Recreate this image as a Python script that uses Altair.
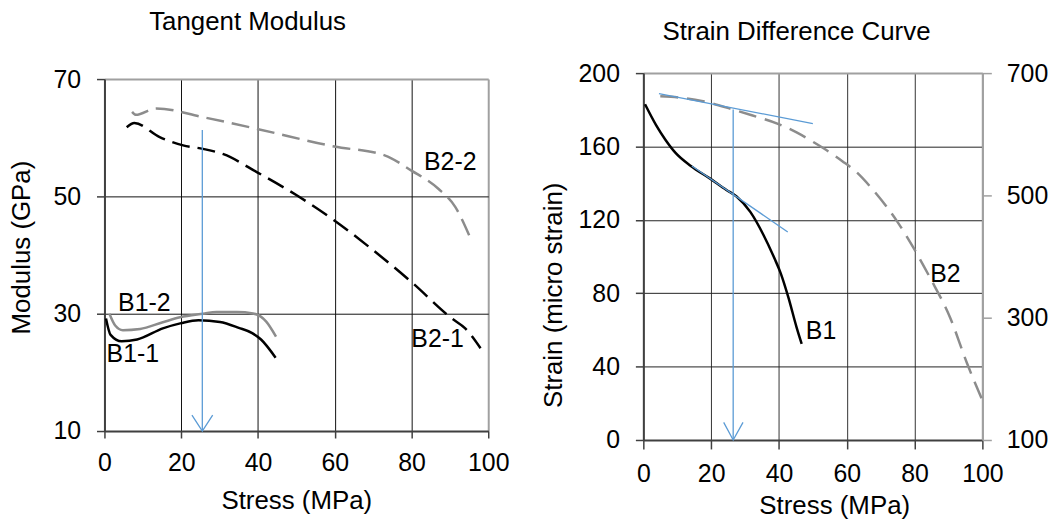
import altair as alt
import pandas as pd

FONT = "Liberation Sans"
BLUE = "#5B9BD5"
GRAY = "#8C8C8C"
BORDER = "#A0A0A0"
AXC = "#404040"

# ---------------- data: left panel (Tangent Modulus) ----------------
left_x_ticks = [0, 20, 40, 60, 80, 100]
left_y_ticks = [10, 30, 50, 70]

b11_x = [0.4, 1.6, 4.5, 8.5, 15.2, 20.0, 24.5, 30.1, 35.0, 38.5, 40.8, 44.6]
b11_y = [29.2, 26.4, 25.3, 25.6, 27.5, 28.4, 28.9, 28.6, 27.6, 26.7, 25.6, 22.5]
b12_x = [1.3, 2.8, 4.8, 9.3, 15.0, 19.7, 25.7, 29.2, 34.5, 38.7, 42.1, 44.7]
b12_y = [30.0, 28.0, 27.2, 27.4, 28.5, 29.4, 30.0, 30.3, 30.3, 30.05, 28.7, 26.1]
b21_x = [5.8, 7.8, 14.4, 20.5, 25.7, 31.0, 39.8, 50.3, 59.9, 69.5, 80.0, 90.5, 94.0, 98.0]
b21_y = [61.8, 62.5, 60.1, 58.7, 58.1, 57.2, 54.1, 50.1, 45.9, 41.1, 35.4, 29.2, 27.5, 24.1]
b22_x = [7.2, 8.2, 13.5, 25.7, 39.8, 59.9, 73.0, 80.0, 87.0, 91.4, 95.4]
b22_y = [64.4, 63.9, 65.0, 63.5, 61.5, 58.5, 57.0, 54.4, 51.3, 48.2, 42.8]

left_arrow_x = [25.5]
left_arrow_top = [61.3]
left_arrow_bottom = [10.0]
left_head_x = [22.8, 25.5, 28.2]
left_head_y = [12.7, 10.0, 12.7]

left_labels = ["B2-2", "B2-1", "B1-2", "B1-1"]
left_label_x = [90.1, 86.8, 10.4, 7.4]
left_label_y = [55.8, 25.7, 31.8, 23.1]

# ---------------- data: right panel (Strain Difference Curve) ----------------
right_x_ticks = [0, 20, 40, 60, 80, 100]
right_yl_ticks = [0, 40, 80, 120, 160, 200]
right_yr_ticks = [100, 300, 500, 700]

b1_x = [0.5, 3.8, 6.5, 9.5, 14.0, 19.6, 24.5, 27.5, 31.6, 35.4, 38.7, 40.5, 42.8, 45.2, 46.7]
b1_y = [183.0, 171.5, 163.7, 156.5, 149.4, 142.6, 136.3, 132.7, 124.2, 111.9, 98.9, 91.0, 77.6, 61.4, 52.4]
b2_x = [5.0, 10.7, 17.6, 26.1, 32.0, 39.7, 45.2, 50.5, 55.1, 58.7, 62.5, 67.9, 74.8, 79.7, 84.6, 90.5, 95.5, 100.0]
b2_y = [662, 660, 654, 641, 631, 617, 603, 586, 570, 556, 540, 508, 458, 414, 365, 300, 225, 165]

tan_upper_x = [4.6, 50.0]
tan_upper_y = [666.4, 617.5]
tan_lower_x = [14.3, 42.6]
tan_lower_y = [149.4, 113.4]

right_arrow_x = [26.5]
right_arrow_top = [180.1]
right_arrow_bottom = [0.0]
right_head_x = [23.7, 26.5, 29.4]
right_head_y = [9.6, 0.0, 9.6]

right_labels = ["B1", "B2"]
right_label_x = [52.4, 89.1]
right_label_y = [59.6, 90.3]


def frame(xs, ys):
    return pd.DataFrame({"x": xs, "y": ys})


def cond(v, edge, normal):
    return {"condition": {"test": f"datum.value === {v}", "value": edge}, "value": normal}


# ================= LEFT PANEL =================
lx = alt.X(
    "x:Q",
    scale=alt.Scale(domain=[0, 100], nice=False, zero=False),
    axis=alt.Axis(
        values=left_x_ticks, title="Stress (MPa)", grid=True,
        gridColor=cond(100, BORDER, "#111111"), gridWidth=cond(100, 2, 1),
        tickSize=7, labelPadding=13, titlePadding=12, labelFlush=False, labelOverlap=False,
        domainColor=AXC, domainWidth=2, tickColor=AXC, tickWidth=1.5,
    ),
)
ly = alt.Y(
    "y:Q",
    scale=alt.Scale(domain=[10, 70], nice=False, zero=False),
    axis=alt.Axis(
        values=left_y_ticks, title="Modulus (GPa)", grid=True,
        gridColor=cond(70, BORDER, "#111111"), gridWidth=cond(70, 2, 1),
        tickSize=8, labelPadding=16, titleX=-70, titleY=169, labelOverlap=False,
        domainColor=AXC, domainWidth=2, tickColor=AXC, tickWidth=1.5,
    ),
)


def line(xs, ys, color, dash=None, width=2.5, xe=None, ye=None, interp="monotone"):
    kw = dict(color=color, strokeWidth=width, interpolate=interp)
    if dash:
        kw["strokeDash"] = dash
    return alt.Chart(frame(xs, ys)).mark_line(**kw).encode(x=xe, y=ye)


left_layers = [
    line(b22_x, b22_y, GRAY, [18, 8], xe=lx, ye=ly),
    line(b21_x, b21_y, "black", [18, 8], xe=lx, ye=ly),
    line(b12_x, b12_y, GRAY, xe=lx, ye=ly),
    line(b11_x, b11_y, "black", xe=lx, ye=ly),
    alt.Chart(pd.DataFrame({"x": left_arrow_x, "y": left_arrow_top, "y2": left_arrow_bottom}))
    .mark_rule(color=BLUE, strokeWidth=1.3)
    .encode(x=lx, y=ly, y2="y2:Q"),
    line(left_head_x, left_head_y, BLUE, width=1.3, xe=lx, ye=ly, interp="linear"),
    alt.Chart(pd.DataFrame({"x": left_label_x, "y": left_label_y, "t": left_labels}))
    .mark_text(font=FONT, fontSize=25, color="black")
    .encode(x=lx, y=ly, text="t:N"),
    alt.Chart(pd.DataFrame({"t": ["Tangent Modulus"]}))
    .mark_text(font=FONT, fontSize=26, color="black", baseline="alphabetic", align="center")
    .encode(x=alt.value(144), y=alt.value(-49.3), text="t:N"),
]
left_panel = alt.layer(*left_layers).properties(width=386, height=354)

# small spacer that pushes the left panel 6px below the right one
spacer = (
    alt.Chart(pd.DataFrame({"t": [""]}))
    .mark_text(font=FONT, fontSize=2, color="white")
    .encode(x=alt.value(0), y=alt.value(0), text="t:N")
    .properties(width=386, height=6)
)
left = alt.vconcat(spacer, left_panel, spacing=0, bounds="flush")

# ================= RIGHT PANEL =================
rx = alt.X(
    "x:Q",
    scale=alt.Scale(domain=[0, 100], nice=False, zero=False),
    axis=alt.Axis(
        values=right_x_ticks, title="Stress (MPa)", grid=True,
        gridColor=cond(100, BORDER, "#333333"), gridWidth=cond(100, 2, 1),
        tickSize=9, labelPadding=13, titlePadding=6, titleX=192, labelFlush=False, labelOverlap=False,
        domainColor=AXC, domainWidth=2, tickColor=AXC, tickWidth=1.5,
    ),
)
ryl = alt.Y(
    "y:Q",
    scale=alt.Scale(domain=[0, 200], nice=False, zero=False),
    axis=alt.Axis(
        values=right_yl_ticks, title="Strain (micro strain)", grid=True,
        gridColor=cond(200, BORDER, "#222222"), gridWidth=cond(200, 2, 1),
        tickSize=8, labelPadding=16, titleX=-77, titleY=223, labelOverlap=False,
        domainColor=AXC, domainWidth=2, tickColor=AXC, tickWidth=1.5,
    ),
)
ryr = alt.Y(
    "y:Q",
    scale=alt.Scale(domain=[100, 700], nice=False, zero=False),
    axis=alt.Axis(
        values=right_yr_ticks, title=None, orient="right", grid=False,
        tickSize=9, labelPadding=15, labelOverlap=False,
        domainColor=BORDER, domainWidth=2, tickColor=BORDER, tickWidth=1.5,
    ),
)

right_left_group = alt.layer(
    line(b1_x, b1_y, "black", xe=rx, ye=ryl),
    line(tan_lower_x, tan_lower_y, BLUE, width=1.3, xe=rx, ye=ryl, interp="linear"),
    alt.Chart(pd.DataFrame({"x": right_arrow_x, "y": right_arrow_top, "y2": right_arrow_bottom}))
    .mark_rule(color=BLUE, strokeWidth=1.3)
    .encode(x=rx, y=ryl, y2="y2:Q"),
    line(right_head_x, right_head_y, BLUE, width=1.3, xe=rx, ye=ryl, interp="linear"),
    alt.Chart(pd.DataFrame({"x": right_label_x, "y": right_label_y, "t": right_labels}))
    .mark_text(font=FONT, fontSize=25, color="black")
    .encode(x=rx, y=ryl, text="t:N"),
    alt.Chart(pd.DataFrame({"t": ["Strain Difference Curve"]}))
    .mark_text(font=FONT, fontSize=26, color="black", baseline="alphabetic", align="center")
    .encode(x=alt.value(154), y=alt.value(-33), text="t:N"),
)
right_right_group = alt.layer(
    line(b2_x, b2_y, GRAY, [18, 9], xe=rx, ye=ryr),
    line(tan_upper_x, tan_upper_y, BLUE, width=1.3, xe=rx, ye=ryr, interp="linear"),
)
right = (
    alt.layer(right_left_group, right_right_group)
    .resolve_scale(y="independent")
    .properties(width=341, height=369)
)

chart = (
    alt.hconcat(left, right, spacing=30)
    .properties(padding={"left": 0, "top": -1, "right": 0, "bottom": 0}, background="white")
    .configure_view(stroke="transparent")
    .configure_axis(
        labelFont=FONT, labelFontSize=25, labelColor="black",
        titleFont=FONT, titleFontSize=26, titleColor="black", titleFontWeight="normal",
    )
)

chart.save("out.html", embed_options={"renderer": "svg", "actions": False})
